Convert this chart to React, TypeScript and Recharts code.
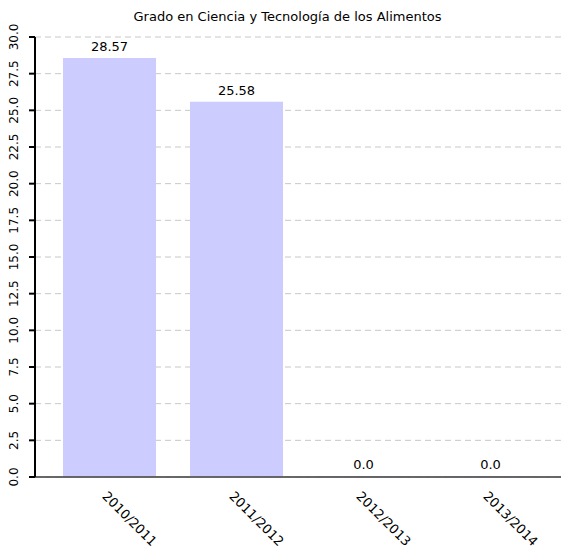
import { BarChart, Bar, XAxis, YAxis, CartesianGrid, LabelList, ReferenceLine } from 'recharts'

const FONT = "'DejaVu Sans', sans-serif"

const cursos = ['2010/2011', '2011/2012', '2012/2013', '2013/2014']
const valores = [28.57, 25.58, 0.0, 0.0]
const yTicks = [0, 2.5, 5, 7.5, 10, 12.5, 15, 17.5, 20, 22.5, 25, 27.5, 30]

const data = cursos.map((c, i) => ({ curso: c, valor: valores[i] }))

function YTick({ x, y, payload }: { x?: number; y?: number; payload?: { value: number } }) {
  if (x == null || y == null || !payload) return null
  const cx = 14
  return (
    <text
      x={cx}
      y={y}
      transform={`rotate(-90 ${cx} ${y})`}
      textAnchor="middle"
      dominantBaseline="central"
      fontSize={12}
      fontFamily={FONT}
      fill="#000"
    >
      {payload.value.toFixed(1)}
    </text>
  )
}

function XTick({ x, y, payload }: { x?: number; y?: number; payload?: { value: string } }) {
  if (x == null || y == null || !payload) return null
  const tx = x - 8
  const ty = y + 12
  return (
    <text
      x={tx}
      y={ty}
      transform={`rotate(45 ${tx} ${ty})`}
      textAnchor="start"
      fontSize={13}
      fontFamily={FONT}
      fill="#000"
    >
      {payload.value}
    </text>
  )
}

export default function App() {
  return (
    <div style={{ position: 'absolute', left: 0, top: 0, width: 561, height: 552, background: '#fff' }}>
      <div style={{
        position: 'absolute', left: 14, top: 9, width: 547, textAlign: 'center',
        fontSize: 13, fontFamily: FONT, color: '#000',
      }}>
        Grado en Ciencia y Tecnología de los Alimentos
      </div>
      <BarChart
        width={561}
        height={552}
        data={data}
        margin={{ top: 37, right: 0, left: 0, bottom: 0 }}
        barCategoryGap="13.4%"
      >
        <CartesianGrid stroke="#c8c8c8" strokeDasharray="6 4" vertical={false} />
        <XAxis
          dataKey="curso"
          tick={<XTick />}
          tickLine={false}
          height={75}
          axisLine={{ stroke: '#555', strokeWidth: 1 }}
          padding={{ left: 11, right: 7 }}
          interval={0}
        />
        <YAxis
          domain={[0, 30]}
          ticks={yTicks}
          width={35}
          tick={<YTick />}
          tickLine={{ stroke: '#000', strokeWidth: 2 }}
          tickSize={6}
          axisLine={{ stroke: '#000', strokeWidth: 2 }}
          interval={0}
        />
        <Bar
          dataKey="valor"
          fill="#ccccff"
          isAnimationActive={false}
          minPointSize={(v: number) => (v === 0 ? 1 : 0)}
        >
          <LabelList
            dataKey="valor"
            position="top"
            offset={7}
            formatter={(v: number) => (v === 0 ? '0.0' : v.toFixed(2))}
            style={{ fontSize: 13, fontFamily: FONT, fill: '#000' }}
          />
        </Bar>
        <ReferenceLine y={0} stroke="#555" strokeWidth={1.5} />
      </BarChart>
    </div>
  )
}
